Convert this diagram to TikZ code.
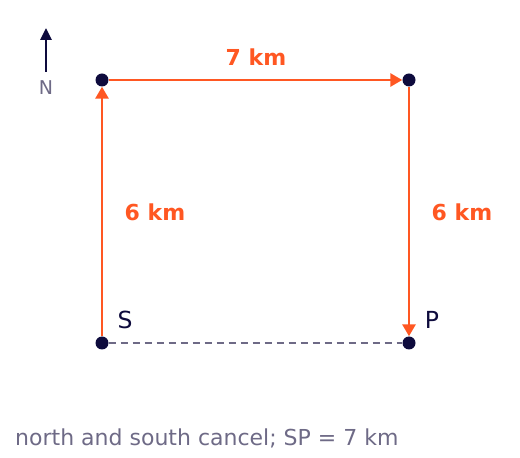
\documentclass[tikz,border=0pt]{standalone}
\usepackage{fontspec}
\setmainfont{DejaVu Sans}
\usetikzlibrary{arrows.meta}
\definecolor{org}{HTML}{FF5722}
\definecolor{navy}{HTML}{0E0B3D}
\definecolor{gry}{HTML}{6E6A86}
\tikzset{
  dot/.style={circle,fill=navy,inner sep=0pt,minimum size=13pt},
  leg/.style={draw=org,line width=2.8pt,-{Triangle[length=12pt,width=13pt]}},
  lbl/.style={text=org,font=\fontsize{22}{26}\selectfont\bfseries},
  pt/.style={text=navy,font=\fontsize{23.5}{28}\selectfont},
}
\begin{document}
\begin{tikzpicture}[x=1pt,y=1pt]
\useasboundingbox (0,0) rectangle (520,458);
\node[dot] (tl) at (102,378) {};
\node[dot] (tr) at (409,378) {};
\node[dot] (s) at (102,115) {};
\node[dot] (p) at (409,115) {};
\draw[gry,line width=1.8pt,dash pattern=on 7pt off 5pt] (s) -- (p);
\draw[leg] (s) -- (tl);
\draw[leg] (tl) -- (tr);
\draw[leg] (tr) -- (p);
\node[lbl] (l7) at (256,401) {7 km};
\node[lbl] (l6a) at (155,246) {6 km};
\node[lbl] (l6b) at (462,246) {6 km};
\node[pt] (ls) at (125,138) {S};
\node[pt] (lp) at (432,138) {P};
\coordinate (nbase) at (46,386);
\coordinate (ntip) at (46,430);
\draw[navy,line width=2.8pt,-{Triangle[length=12pt,width=11pt]}] (nbase) -- (ntip);
\node[text=gry,font=\fontsize{19}{22}\selectfont] (nl) at (46,370) {N};
\node[text=gry,font=\fontsize{22}{26}\selectfont,anchor=west,inner sep=0pt] (cap) at (15,20) {north and south cancel; SP = 7 km};
\end{tikzpicture}
\end{document}
